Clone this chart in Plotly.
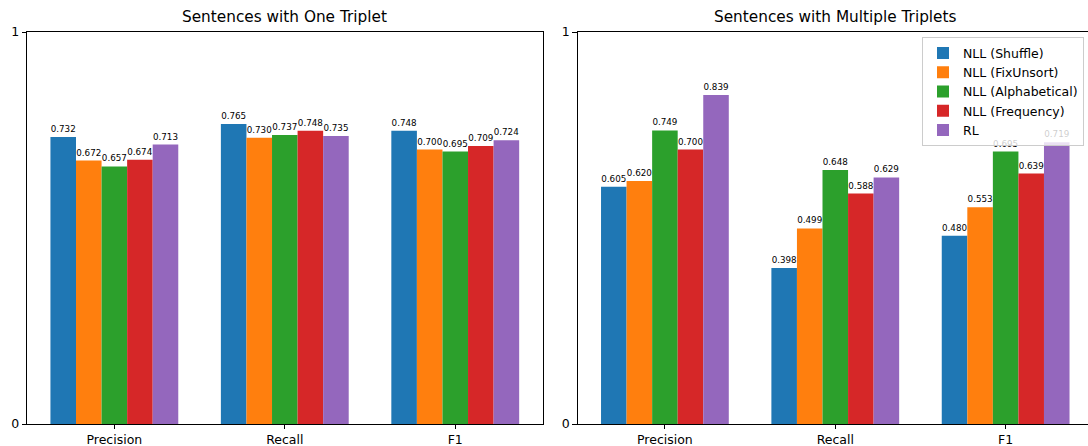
import plotly.graph_objects as go
from plotly.subplots import make_subplots

categories = ["Precision", "Recall", "F1"]
series_names = ["NLL (Shuffle)", "NLL (FixUnsort)", "NLL (Alphabetical)", "NLL (Frequency)", "RL"]
colors = ["#1f77b4", "#ff7f0e", "#2ca02c", "#d62728", "#9467bd"]

# Sentences with One Triplet
one_shuffle = [0.732, 0.765, 0.748]
one_fixunsort = [0.672, 0.730, 0.700]
one_alpha = [0.657, 0.737, 0.695]
one_freq = [0.674, 0.748, 0.709]
one_rl = [0.713, 0.735, 0.724]

# Sentences with Multiple Triplets
multi_shuffle = [0.605, 0.398, 0.480]
multi_fixunsort = [0.620, 0.499, 0.553]
multi_alpha = [0.749, 0.648, 0.695]
multi_freq = [0.700, 0.588, 0.639]
multi_rl = [0.839, 0.629, 0.719]

one_data = [one_shuffle, one_fixunsort, one_alpha, one_freq, one_rl]
multi_data = [multi_shuffle, multi_fixunsort, multi_alpha, multi_freq, multi_rl]

titles = ["Sentences with One Triplet", "Sentences with Multiple Triplets"]

W, H = 1088, 446
ml, mr, mt, mb = 26.8, 0, 31.5, 21.5
pw = W - ml - mr
ph = H - mt - mb
x1_end = (542.5 - ml) / pw
x2_start = (577.5 - ml) / pw

fig = make_subplots(rows=1, cols=2)

font_family = "DejaVu Sans"
for col, data in [(1, one_data), (2, multi_data)]:
    for i, (name, vals) in enumerate(zip(series_names, data)):
        fig.add_trace(go.Bar(
            x=categories, y=vals, name=name,
            marker=dict(color=colors[i], line=dict(width=0)),
            text=[f"{v:.3f}" for v in vals],
            textposition="outside",
            textfont=dict(size=8.75, color="black", family=font_family),
            constraintext="none",
            cliponaxis=False,
            showlegend=(col == 2),
            offsetgroup=str(i),
        ), row=1, col=col)

fig.update_layout(
    width=W, height=H,
    margin=dict(l=ml, r=mr, t=mt, b=mb, pad=0, autoexpand=False),
    paper_bgcolor="white", plot_bgcolor="white",
    barmode="group", bargap=0.25, bargroupgap=0,
    font=dict(family=font_family, size=12.5, color="black"),
    legend=dict(
        x=(1084 - ml) / pw, y=(424.5 - 37) / ph,
        xanchor="right", yanchor="top",
        bgcolor="rgba(255,255,255,0.8)", bordercolor="#cccccc", borderwidth=1,
        font=dict(size=12.5, family=font_family, color="black"),
        tracegroupgap=0,
    ),
)

axis_common = dict(showgrid=False, zeroline=False, ticks="outside", ticklen=4.4,
                   tickwidth=1, tickcolor="black", linecolor="black", linewidth=1,
                   automargin=False,
                   tickfont=dict(size=12.5, family=font_family, color="black"))

fig.update_xaxes(domain=[0, x1_end], range=[-0.5125, 2.5125], showline=True, mirror=True,
                 row=1, col=1, **axis_common)
fig.update_xaxes(domain=[x2_start, 1], range=[-0.5125, -0.5125 + (W - 577.5) / 170.4],
                 showline=True, mirror=True, row=1, col=2, **axis_common)
fig.update_yaxes(range=[0, 1], tickvals=[0, 1], ticktext=["0", "1"], showline=True,
                 mirror=True, row=1, col=1, **axis_common)
fig.update_yaxes(range=[0, 1], tickvals=[0, 1], ticktext=["0", "1"], showline=True,
                 mirror=False, row=1, col=2, **axis_common)

for x0, x1, t in [(0, x1_end, titles[0]), (x2_start, (1093.5 - ml) / pw, titles[1])]:
    fig.add_annotation(text=t, x=(x0 + x1) / 2, y=1, xref="paper", yref="paper",
                       xanchor="center", yanchor="bottom", yshift=4, showarrow=False,
                       font=dict(size=15.3, family=font_family, color="black"))

fig.write_html("out.html", config={"displayModeBar": False},
               post_script="document.body.style.margin='0';document.body.style.overflow='hidden';")
